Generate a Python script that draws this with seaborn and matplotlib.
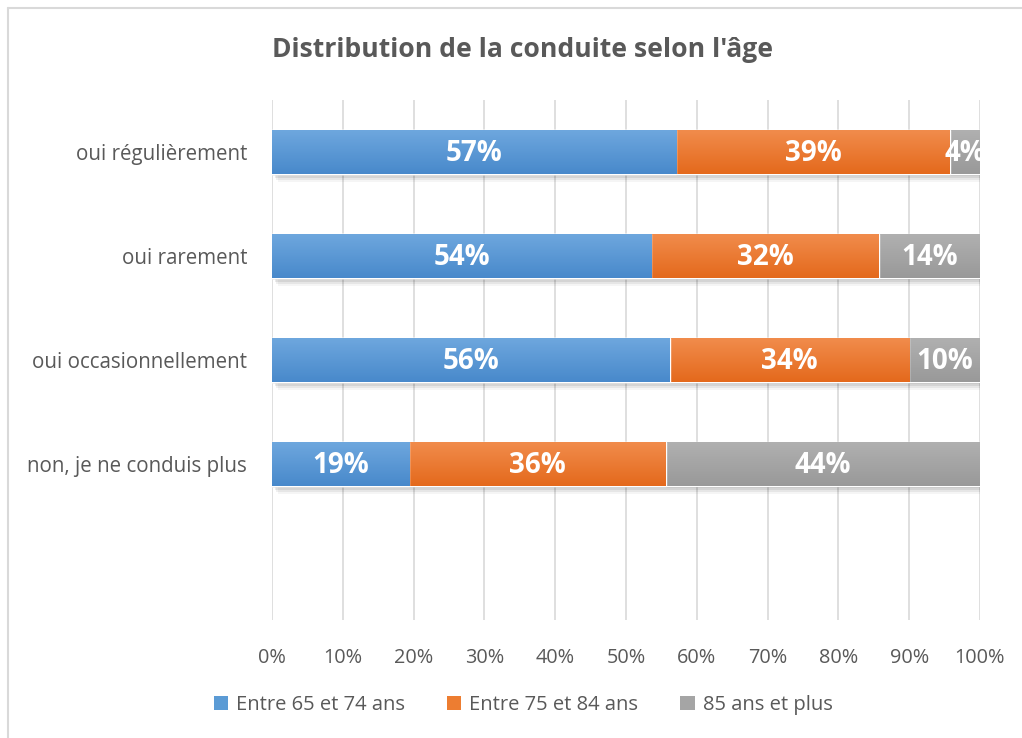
import numpy as np
import pandas as pd
import matplotlib
matplotlib.use("Agg")
import matplotlib.pyplot as plt
import matplotlib.patheffects as pe
from matplotlib.colors import LinearSegmentedColormap
from matplotlib.lines import Line2D
from matplotlib.patches import Patch
import seaborn as sns

# ---- data -------------------------------------------------------------
categories = ["oui régulièrement", "oui rarement", "oui occasionnellement",
              "non, je ne conduis plus"]
series_names = ["Entre 65 et 74 ans", "Entre 75 et 84 ans", "85 ans et plus"]
age_65_74 = [57.1, 53.6, 56.2, 19.4]
age_75_84 = [38.6, 32.1, 33.8, 36.2]
age_85_plus = [4.3, 14.3, 10.0, 44.4]
x_ticks = [0, 10, 20, 30, 40, 50, 60, 70, 80, 90, 100]
title = "Distribution de la conduite selon l'âge"

# ---- style ------------------------------------------------------------
sns.set_theme(style="white")
plt.rcParams["font.family"] = ["Open Sans", "DejaVu Sans"]
text_col = "#595959"
grid_col = "#D9D9D9"
colors = ["#5B9BD5", "#ED7D31", "#A5A5A5"]
grad_top = ["#6EA7DE", "#F18C4C", "#B0B0B0"]
grad_bot = ["#4889CB", "#E4691C", "#999999"]

series = [age_65_74, age_75_84, age_85_plus]
starts = [np.zeros(4), np.array(age_65_74), np.array(age_65_74) + np.array(age_75_84)]
ends = [s + np.array(v) for s, v in zip(starts, series)]

df = pd.DataFrame({"categorie": categories})
for i in range(3):
    df[f"fin_{i}"] = ends[i]

fig = plt.figure(figsize=(10.22, 7.38), dpi=100)
ax = fig.add_axes([272 / 1022, 1 - 620 / 738, 708 / 1022, 520 / 738])

bar_h = 0.42
# stacked bars drawn from the longest cumulative extent down to the shortest
for idx in [2, 1, 0]:
    before = len(ax.patches)
    sns.barplot(data=df, x=f"fin_{idx}", y="categorie", orient="h",
                color=colors[idx], width=bar_h, saturation=1, ax=ax,
                zorder=2 + (2 - idx))
    new_patches = ax.patches[before:]
    cmap = LinearSegmentedColormap.from_list(f"g{idx}", [grad_top[idx], grad_bot[idx]])
    for p in new_patches:
        p.set_zorder(2 + (2 - idx))
        if idx == 2:
            p.set_path_effects([
                pe.SimplePatchShadow(offset=(1.0, -1.5), shadow_rgbFace="black", alpha=0.10),
                pe.SimplePatchShadow(offset=(2.0, -3.0), shadow_rgbFace="black", alpha=0.08),
                pe.SimplePatchShadow(offset=(3.0, -4.5), shadow_rgbFace="black", alpha=0.06),
                pe.SimplePatchShadow(offset=(4.0, -6.0), shadow_rgbFace="black", alpha=0.04),
                pe.Normal()])
        x0, y0 = p.get_x(), p.get_y()
        w, h = p.get_width(), p.get_height()
        grad = np.linspace(0, 1, 128).reshape(-1, 1)
        im = ax.imshow(grad, cmap=cmap, aspect="auto", origin="upper",
                       extent=(x0, x0 + w, y0 + h, y0),
                       zorder=2.5 + (2 - idx), interpolation="bilinear")
        im.set_clip_path(p)

# value labels centred in each segment
for i in range(3):
    for j in range(len(categories)):
        v = series[i][j]
        ax.text(starts[i][j] + v / 2, j + 0.01, f"{v:.0f}%", ha="center", va="center",
                color="white", fontsize=20, fontweight="bold", zorder=10)

ax.set_xlim(0, 100)
ax.set_ylim(4.5, -0.5)
ax.set_xticks(x_ticks)
ax.set_xticklabels([f"{t}%" for t in x_ticks])
ax.set_xlabel("")
ax.set_ylabel("")
ax.tick_params(axis="x", length=0, pad=20, labelsize=14.3, labelcolor=text_col)
ax.tick_params(axis="y", length=0, pad=18, labelsize=14.8, labelcolor=text_col)
ax.xaxis.grid(True, color=grid_col, linewidth=1.2, zorder=0)
ax.yaxis.grid(False)
ax.set_axisbelow(True)
for s in ax.spines.values():
    s.set_visible(False)

fig.text(522 / 1022, 1 - 50 / 738, title, ha="center", va="center",
         fontsize=19.1, fontweight="bold", color=text_col)

handles = [Patch(facecolor=c, edgecolor="none") for c in colors]
fig.legend(handles, series_names, loc="center", bbox_to_anchor=(523 / 1022, 1 - 705 / 738),
           ncol=3, frameon=False, fontsize=14.5, labelcolor=text_col,
           handlelength=0.7, handleheight=0.7, handletextpad=0.4, columnspacing=2.1)

# chart area border (top and left edges)
fig.add_artist(Line2D([7.5 / 1022, 7.5 / 1022], [0, 1 - 7.5 / 738], transform=fig.transFigure,
                      color=grid_col, linewidth=1.5))
fig.add_artist(Line2D([7.5 / 1022, 1], [1 - 7.5 / 738, 1 - 7.5 / 738], transform=fig.transFigure,
                      color=grid_col, linewidth=1.5))

fig.savefig("out.png", dpi=100, facecolor="white")
